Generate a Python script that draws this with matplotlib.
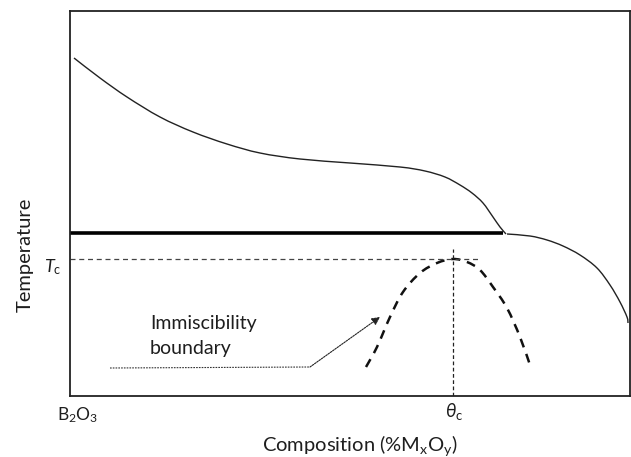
import matplotlib
matplotlib.use("Agg")
import matplotlib.pyplot as plt
from matplotlib.path import Path
from matplotlib.patches import PathPatch

plt.rcParams['font.family'] = ['Lato', 'DejaVu Sans']
plt.rcParams['mathtext.fontset'] = 'custom'
plt.rcParams['mathtext.rm'] = 'Lato'
plt.rcParams['mathtext.it'] = 'Lato:italic'

# Schematic phase diagram data (composition units 0-560, temperature units 0-385)
liq_x = [4, 30, 57, 90, 123, 157, 190, 230, 280, 330, 355, 375, 390, 402, 413, 423, 430, 436]
liq_T = [338, 318, 299, 279, 264, 252, 243, 237, 233, 229, 225, 219, 211, 203, 193, 179, 169, 162]

right_x = [437, 460, 477, 493, 510, 527, 540, 550, 557, 558]
right_T = [162, 160, 156, 150, 141, 128, 111, 94, 79, 73]

solidus_x = [0, 433]
solidus_T = [163, 163]

dome_x = [296, 307, 320, 333, 350, 367, 383, 397, 410, 423, 437, 450, 461]
dome_T = [29, 49, 79, 104, 123, 133, 137, 134, 126, 109, 88, 59, 28]

Tc = 137
theta_c = 383
tc_line_end = 410
theta_line_top = 147

arrow_x = [40, 240]
arrow_T = [28, 29]
arrow_tip = (310, 79)


def smooth_path(xs, ys):
    """Cubic Bezier path passing through the given points (Catmull-Rom style handles)."""
    pts = list(zip(xs, ys))
    verts = [pts[0]]
    codes = [Path.MOVETO]
    n = len(pts)
    for i in range(n - 1):
        p0 = pts[i - 1] if i > 0 else pts[i]
        p1 = pts[i]
        p2 = pts[i + 1]
        p3 = pts[i + 2] if i + 2 < n else pts[i + 1]
        c1 = (p1[0] + (p2[0] - p0[0]) / 6.0, p1[1] + (p2[1] - p0[1]) / 6.0)
        c2 = (p2[0] - (p3[0] - p1[0]) / 6.0, p2[1] - (p3[1] - p1[1]) / 6.0)
        verts += [c1, c2, p2]
        codes += [Path.CURVE4] * 3
    return Path(verts, codes)


fig = plt.figure(figsize=(6.31, 4.57), dpi=100)
ax = fig.add_axes([70/631, (457-396)/457, 560/631, 385/457])
ax.set_xlim(0, 560)
ax.set_ylim(0, 385)
ax.set_xticks([])
ax.set_yticks([])
for s in ax.spines.values():
    s.set_linewidth(1.3)
    s.set_color('#222222')

ax.add_patch(PathPatch(smooth_path(liq_x, liq_T), fill=False, edgecolor='#222222', lw=1.0))
ax.add_patch(PathPatch(smooth_path(right_x, right_T), fill=False, edgecolor='#222222', lw=1.0))
ax.plot(solidus_x, solidus_T, color='black', lw=2.6, solid_capstyle='butt')
ax.plot([0, tc_line_end], [Tc, Tc], color='#444444', lw=0.9, dashes=(4, 3))
ax.plot([theta_c, theta_c], [0, theta_line_top], color='#222222', lw=0.9, dashes=(3, 2))
ax.add_patch(PathPatch(smooth_path(dome_x, dome_T), fill=False, edgecolor='#111111', lw=1.8,
                       linestyle=(0, (3.6, 2.8))))

ax.plot(arrow_x, arrow_T, color='#333333', lw=0.8, dashes=(1.5, 1))
ax.annotate('', xy=arrow_tip, xytext=(arrow_x[-1], arrow_T[-1]),
            arrowprops=dict(arrowstyle='-|>', color='#222222', lw=0.8, ls=(0, (1.5, 1)),
                            mutation_scale=12, shrinkA=0, shrinkB=0))

txt_color = '#1e1e1e'
ax.text(80, 67, 'Immiscibility', fontsize=14, color=txt_color, va='baseline', ha='left')
ax.text(80, 42, 'boundary', fontsize=14, color=txt_color, va='baseline', ha='left')

ax.text(-8, Tc - 8, r'$T_{\mathrm{c}}$', fontsize=13, ha='right', va='center', color=txt_color)
ax.text(theta_c + 1, -15, r'$\theta_{\mathrm{c}}$', fontsize=13.5, ha='center', va='center', color=txt_color)
ax.text(8, -19, r'B$_2$O$_3$', fontsize=12.5, ha='center', va='center', color=txt_color)

ax.text(290, -50, r'Composition (%M$_{\mathrm{x}}$O$_{\mathrm{y}}$)', fontsize=14.5,
        color=txt_color, ha='center', va='center')
ax.text(-45, 141, 'Temperature', fontsize=14.5, color=txt_color, ha='center', va='center',
        rotation=90)

fig.savefig('out.png', dpi=100)
